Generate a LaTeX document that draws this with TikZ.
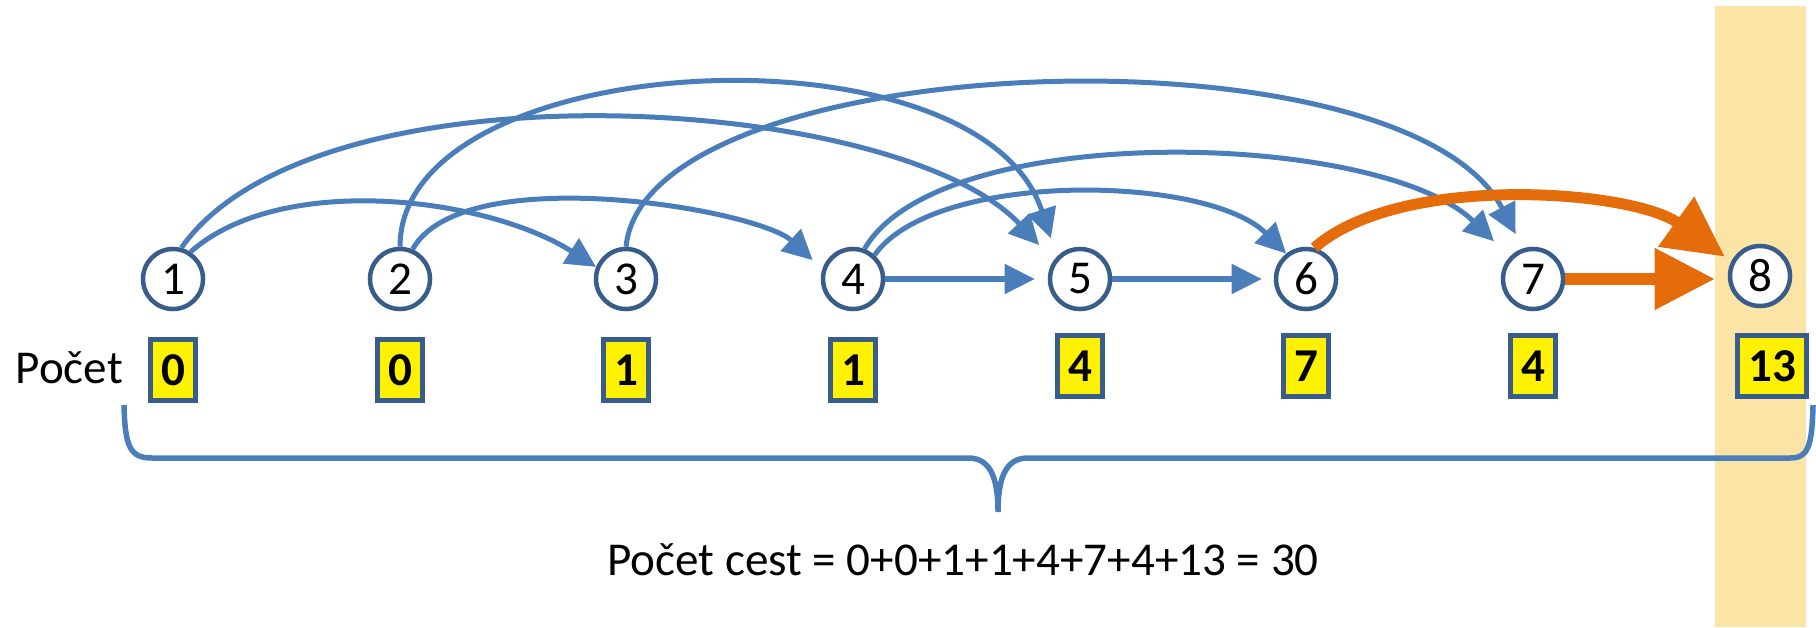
\documentclass[tikz,border=0pt]{standalone}
\usepackage{fontspec}
\setmainfont{Carlito}
\usetikzlibrary{arrows.meta}
\definecolor{arcblue}{RGB}{74,126,187}
\definecolor{ringblue}{RGB}{56,93,138}
\definecolor{pathorange}{RGB}{228,108,10}
\definecolor{bandtan}{RGB}{252,228,166}

\tikzset{
  vertex/.style={circle, draw=ringblue, line width=0.045cm, fill=white, minimum size=0.6cm, inner sep=0pt},
  countbox/.style={draw=ringblue, line width=0.045cm, fill=yellow, font=\fontsize{13.4}{16}\selectfont\bfseries, minimum height=0.61cm, inner xsep=0.105cm, inner ysep=0pt},
  arcarrow/.style={arcblue, line width=0.05cm, -{Triangle[length=0.3cm, width=0.29cm]}},
  bestarrow/.style={pathorange, line width=0.11cm, -{Triangle[length=0.6cm, width=0.59cm]}}
}

\begin{document}
\begin{tikzpicture}[x = 0.01cm, y = 0.01cm, font = \fontsize{13.4}{16}\selectfont]
    \useasboundingbox (0,0) rectangle (1816,627);
    \fill[bandtan] (1715,0) rectangle (1806,621);

    % vertices
    \node[vertex] (n1) at (173,348) {1};
    \node[vertex] (n2) at (400,348) {2};
    \node[vertex] (n3) at (626,348) {3};
    \node[vertex] (n4) at (853,348) {4};
    \node[vertex] (n5) at (1080,348) {5};
    \node[vertex] (n6) at (1306,348) {6};
    \node[vertex] (n7) at (1533,348) {7};
    \node[vertex] (n8) at (1760,351) {8};

    % counts
    \node[anchor = base west, inner sep = 0pt] (pocet) at (15,244) {Počet};
    \node[countbox] (c1) at (173,257) {0};
    \node[countbox] (c2) at (400,257) {0};
    \node[countbox] (c3) at (626,257) {1};
    \node[countbox] (c4) at (853,257) {1};
    \node[countbox] (c5) at (1080,261) {4};
    \node[countbox] (c6) at (1306,261) {7};
    \node[countbox] (c7) at (1533,261) {4};
    \node[countbox] (c8) at (1772,261) {13};

    % brace and sum
    \draw[arcblue, line width = 0.055cm] (124,222) .. controls (125,180) and (130,169) .. (152,169) -- (968,169)
        .. controls (990,169) and (998,150) .. (998,115) .. controls (998,150) and (1006,169) .. (1028,169)
        -- (1790,169) .. controls (1808,169) and (1812,180) .. (1813,222);
    \node[anchor = base, inner sep = 0pt] (sum) at (963,52) {Počet cest = 0+0+1+1+4+7+4+13 = 30};

    % edges
    \draw[arcarrow] (n1.57) .. controls +(90,80) and +(-110,70) .. (n3.158);
    \draw[arcarrow, shorten >=0.21cm] (n1.75) .. controls +(133,190) and +(-156,167) .. (n5.145);
    \draw[arcarrow, shorten >=0.19cm] (n2.north) .. controls +(0,200) and +(-78,239) .. (n5.136);
    \draw[arcarrow, shorten >=0.13cm] (n2.67) .. controls +(50,90) and +(-65,60) .. (n4.162);
    \draw[arcarrow, shorten >=0.16cm] (n3.north) .. controls +(20,200) and +(-119,228) .. (n7.108);
    \draw[arcarrow] (n4.48) .. controls +(60,85) and +(-79,79) .. (n6.128);
    \draw[arcarrow, shorten >=0.22cm] (n4.69) .. controls +(75,130) and +(-130,126) .. (n7.136);
    \draw[arcarrow, shorten >=0.13cm] (n4) -- (n5);
    \draw[arcarrow, shorten >=0.12cm] (n5) -- (n6);
    \draw[bestarrow, shorten >=0.08cm] (n6.75) .. controls +(85,75) and +(-100,72) .. (n8.153);
    \draw[bestarrow, shorten >=0.13cm] (n7.east) -- (n7.east -| n8.west);
\end{tikzpicture}
\end{document}
